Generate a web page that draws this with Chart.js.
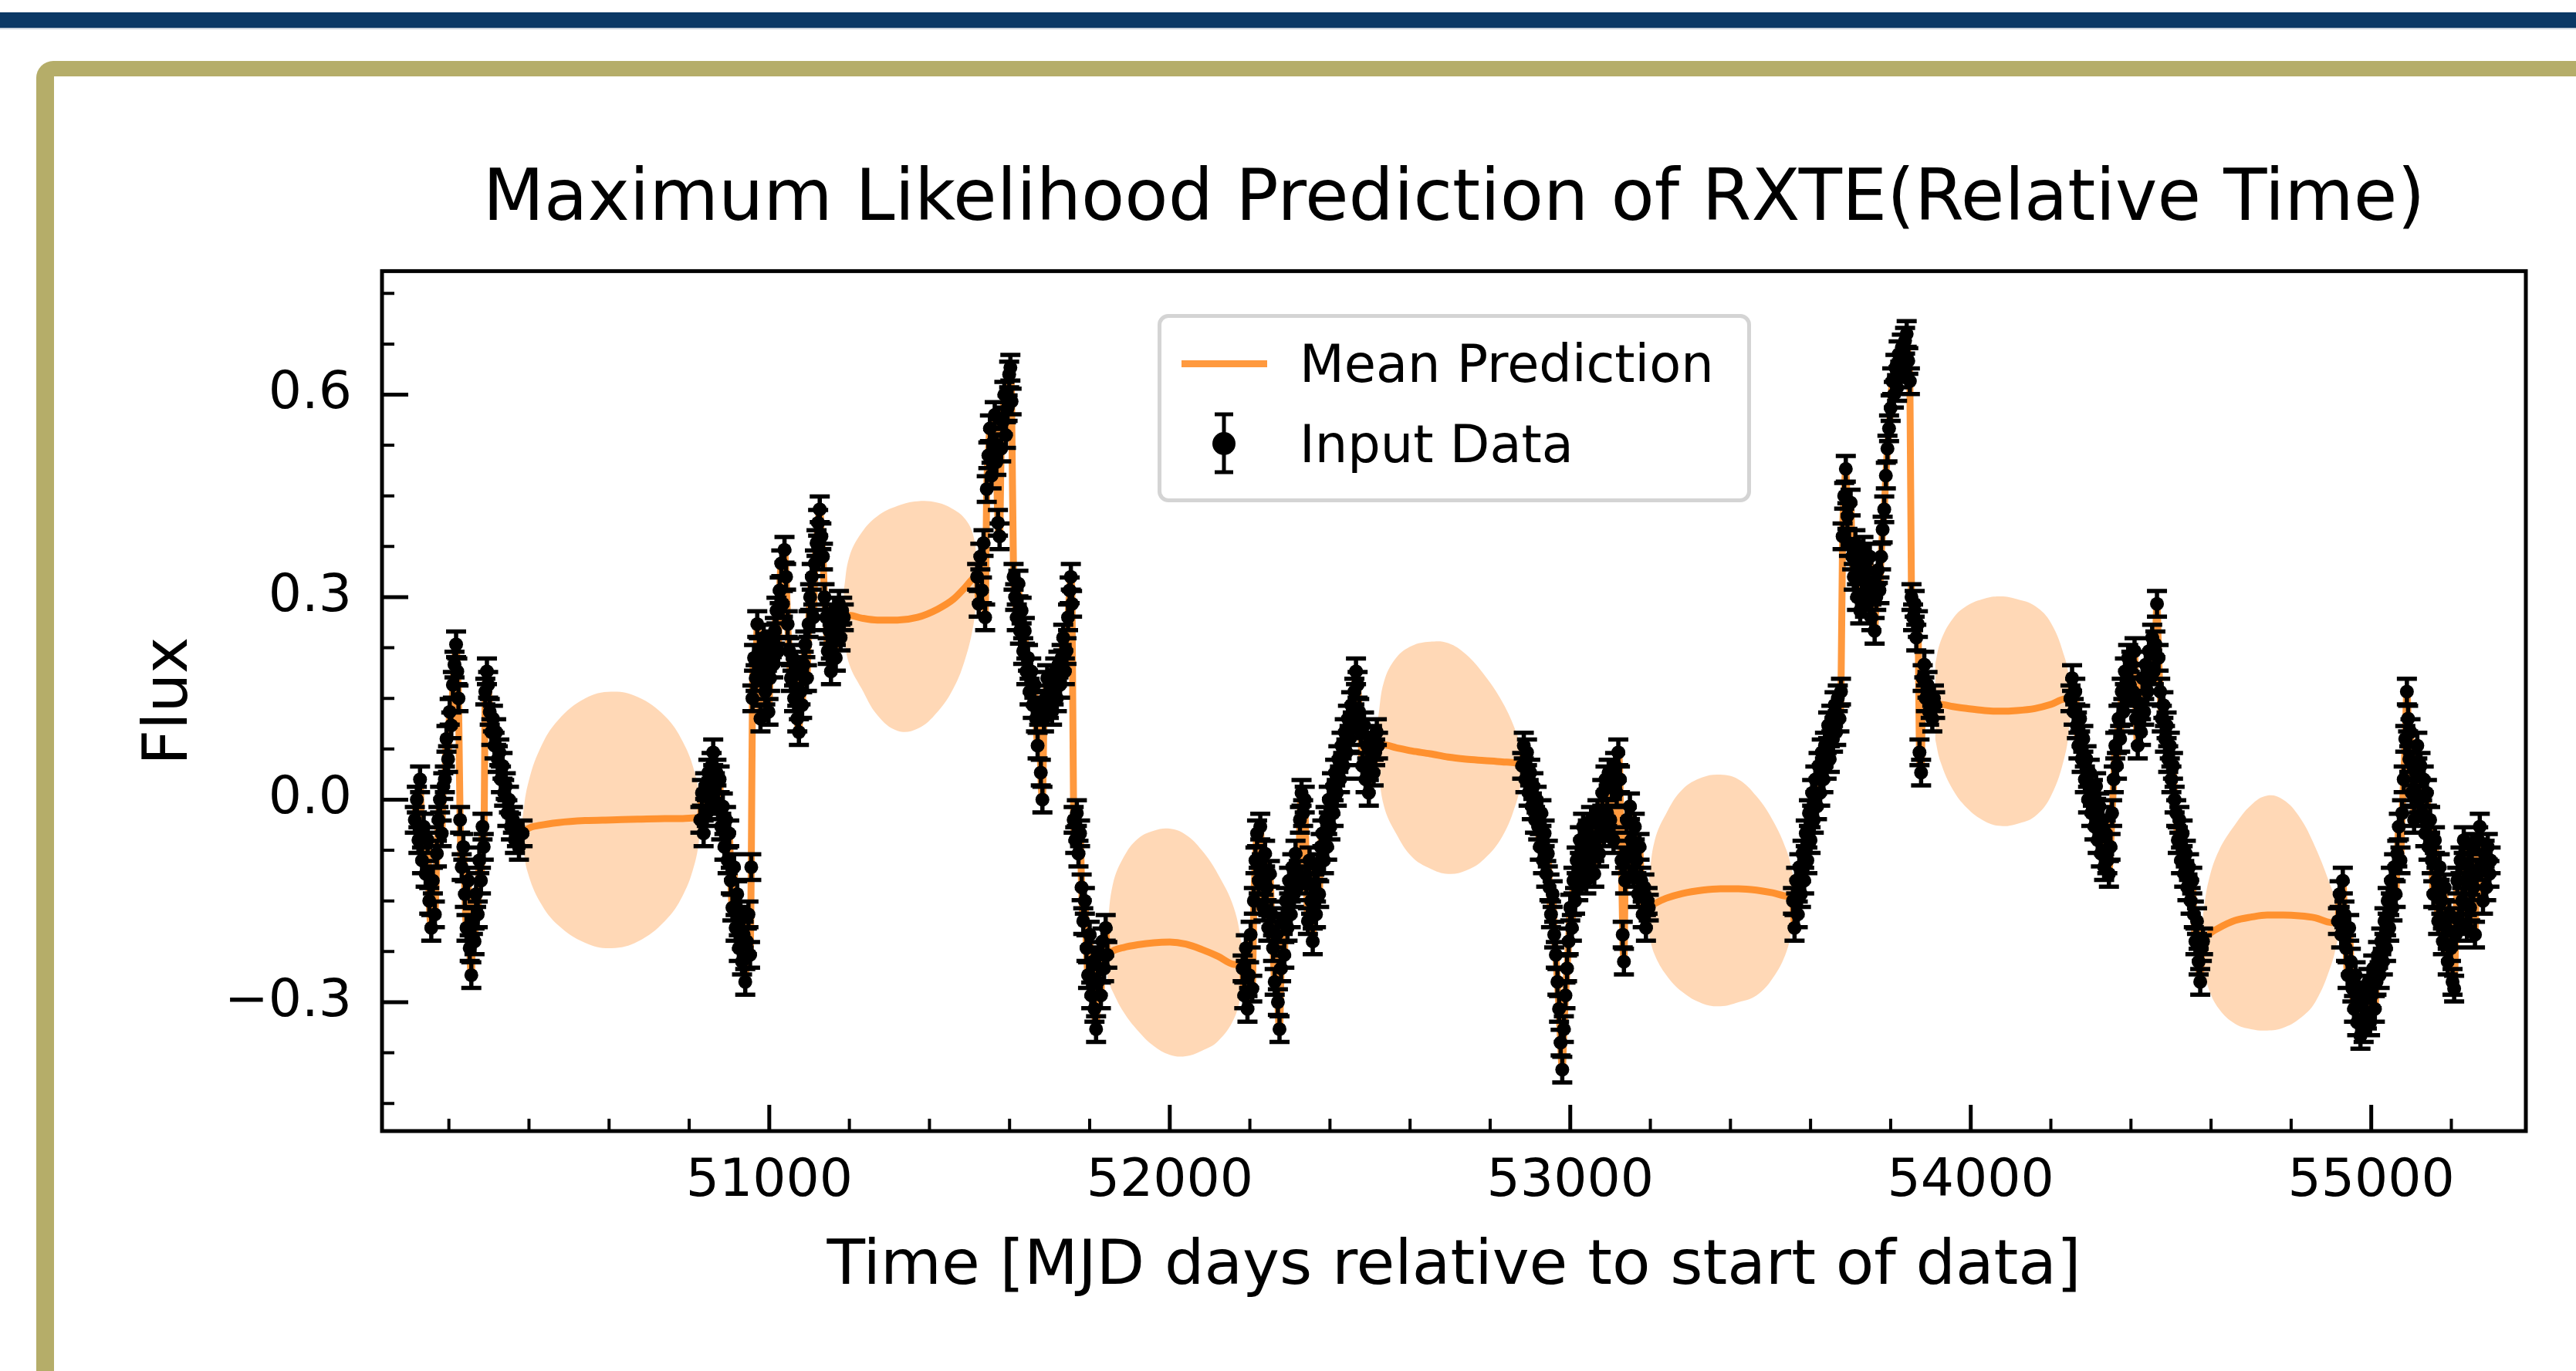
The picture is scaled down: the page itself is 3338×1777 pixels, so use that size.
<!DOCTYPE html>
<html lang="en">
<head>
  <meta charset="UTF-8" />
  <title>Maximum Likelihood Prediction of RXTE</title>
  <script src="https://cdn.jsdelivr.net/npm/chart.js"></script>
  <style>
    body {
      margin: 0;
      width: 3338px;
      height: 1777px;
      overflow: hidden;
      background: #ffffff;
      font-family: 'DejaVu Sans', sans-serif;
      position: relative;
    }
    .topbar {
      position: absolute;
      left: 0; top: 16px;
      width: 100%; height: 20px;
      background: #0b3865;
      border-bottom: 2px solid #c9d2dc;
    }
    .frame {
      position: absolute;
      left: 47px; top: 79px;
      width: 3400px; height: 1800px;
      box-sizing: border-box;
      border-left: 23px solid #b5ad69;
      border-top: 20px solid #b5ad69;
      border-top-left-radius: 22px;
    }
    canvas {
      position: absolute;
      left: 0; top: 0;
    }
    .legend-box {
      position: absolute;
      left: 1500px; top: 407px;
      width: 769px; height: 244px;
      box-sizing: border-box;
      border: 5px solid #d4d4d4;
      border-radius: 14px;
      background: rgba(255, 255, 255, 0.8);
    }
    .legend-text {
      position: absolute;
      left: 1684px;
      font-size: 67px;
      line-height: 1;
      color: #000;
      white-space: nowrap;
    }
    .legend-line {
      position: absolute;
      left: 1531px; top: 467px;
      width: 111px; height: 9px;
      background: rgba(255, 127, 14, 0.8);
    }
    .legend-err {
      position: absolute;
      left: 1556px; top: 530px;
    }
  </style>
</head>
<body>
  <div class="topbar"></div>
  <div class="frame"></div>
  <canvas id="rxte" width="3338" height="1777"></canvas>

  <div class="legend-box"></div>
  <div class="legend-line"></div>
  <div class="legend-text" style="top:439px">Mean Prediction</div>
  <svg class="legend-err" width="60" height="90">
    <line x1="30" y1="7" x2="30" y2="82" stroke="#000" stroke-width="5"/>
    <line x1="18" y1="7" x2="42" y2="7" stroke="#000" stroke-width="5"/>
    <line x1="18" y1="82" x2="42" y2="82" stroke="#000" stroke-width="5"/>
    <circle cx="30" cy="45" r="15" fill="#000"/>
  </svg>
  <div class="legend-text" style="top:543px">Input Data</div>

  <script>
    // axis ranges and tick labels
    const xRange = [50033, 55386];
    const yRange = [-0.491, 0.783];
    const xTicks = [51000, 52000, 53000, 54000, 55000];
    const yTicks = [-0.3, 0.0, 0.3, 0.6];
    const yMinorTicks = [-0.45, -0.375, -0.225, -0.15, -0.075, 0.075, 0.15, 0.225, 0.375, 0.45, 0.525, 0.675, 0.75];

    // observed light curve (MJD, flux); one error value for every point
    const FLUX_ERR = 0.019;
    const obsTime = [
      // first block
      50115, 50120, 50124, 50128, 50133, 50137, 50142, 50147, 50151, 50156,
      50160, 50165, 50170, 50174, 50178, 50182, 50186, 50190, 50194, 50198,
      50202, 50206, 50210, 50214, 50218, 50221, 50224, 50228, 50232, 50236,
      50240, 50244, 50248, 50252, 50256, 50260, 50264, 50268, 50272, 50276,
      50280, 50284, 50287, 50291, 50295, 50298, 50302, 50306, 50310, 50314,
      50318, 50322, 50326, 50330, 50334, 50338, 50342, 50346, 50350, 50355,
      50360, 50365, 50370, 50375, 50380, 50384,
      // second block
      50828, 50832, 50836, 50840, 50844, 50848, 50852, 50856, 50860, 50864,
      50868, 50872, 50876, 50880, 50884, 50888, 50892, 50896, 50900, 50904,
      50908, 50912, 50916, 50920, 50924, 50928, 50932, 50936, 50940, 50944,
      50948, 50952, 50955,
      50958, 50962, 50966, 50970, 50974, 50978, 50982, 50986, 50990, 50994,
      50998, 51002, 51006, 51010, 51014, 51018, 51022, 51026, 51030, 51034,
      51038, 51042, 51046, 51050, 51054, 51058, 51062, 51066, 51070, 51074,
      51078, 51082, 51086, 51090, 51094, 51098, 51102, 51106, 51110, 51114,
      51118, 51122, 51126, 51130, 51134, 51138, 51142, 51146, 51150, 51154,
      51158, 51162, 51166, 51170, 51174, 51178, 51182, 51186,
      // third block
      51519, 51523, 51527, 51531, 51535, 51539, 51543, 51547, 51551, 51555,
      51559, 51563, 51567, 51571, 51575, 51579, 51583, 51587, 51591, 51595,
      51599, 51602, 51605, 51610, 51614, 51618, 51622, 51626, 51630, 51634,
      51638, 51642, 51646, 51650, 51654, 51658, 51662, 51666, 51670, 51674,
      51678, 51682, 51686, 51690, 51694, 51698, 51702, 51706, 51710, 51714,
      51718, 51722, 51726, 51730, 51734, 51738, 51742, 51746, 51750, 51753,
      51756, 51760, 51764, 51768, 51772, 51776, 51780, 51784, 51788, 51792,
      51796, 51800, 51804, 51808, 51812, 51816, 51820, 51824, 51828, 51832,
      51836, 51840, 51844,
      // fourth block
      52182, 52186, 52190, 52194, 52198, 52202, 52206, 52210, 52214, 52218,
      52222, 52226, 52230, 52234, 52238, 52242, 52246, 52250, 52254, 52258,
      52262, 52266, 52270, 52274, 52278, 52282, 52286, 52290, 52294, 52298,
      52302, 52306, 52310, 52314, 52318, 52322, 52325, 52329, 52333, 52337,
      52341, 52345, 52349, 52353, 52357, 52361, 52365, 52369, 52373, 52377,
      52381, 52385, 52389, 52393, 52397, 52401, 52405, 52409, 52413, 52417,
      52421, 52425, 52429, 52433, 52437, 52441, 52445, 52449, 52453, 52457,
      52461, 52465, 52469, 52473, 52477, 52481, 52485, 52489, 52493, 52497,
      52501, 52505, 52509, 52513, 52517, 52520,
      // fifth block
      52880, 52884, 52888, 52892, 52896, 52900, 52904, 52908, 52912, 52916,
      52920, 52924, 52928, 52932, 52936, 52940, 52944, 52948, 52952, 52956,
      52960, 52964, 52968, 52972, 52976, 52980, 52984, 52988, 52992, 52996,
      53000, 53004, 53008, 53012, 53016, 53020, 53024, 53028, 53032, 53036,
      53040, 53044, 53048, 53052, 53056, 53060, 53064, 53068, 53072, 53076,
      53080, 53084, 53088, 53092, 53096, 53100, 53104, 53108, 53112, 53116,
      53120, 53124, 53128, 53131, 53134, 53137, 53141, 53145, 53149, 53153,
      53157, 53161, 53165, 53169, 53173, 53177, 53181, 53185, 53189, 53193,
      53196,
      // sixth block
      53556, 53560, 53564, 53568, 53572, 53576, 53580, 53584, 53588, 53592,
      53596, 53600, 53604, 53608, 53612, 53616, 53620, 53624, 53628, 53632,
      53636, 53640, 53644, 53648, 53652, 53656, 53660, 53664, 53668, 53672,
      53676, 53680, 53684, 53688, 53692, 53696, 53700, 53704, 53708, 53712,
      53716, 53720, 53724, 53728, 53732, 53736, 53740, 53744, 53748, 53752,
      53756, 53760, 53764, 53768, 53772, 53776, 53780, 53784, 53788, 53792,
      53796, 53800, 53804, 53808, 53812, 53816, 53820, 53824, 53828, 53832,
      53836, 53840, 53844, 53848, 53852, 53856, 53860, 53864, 53868, 53872,
      53876, 53880, 53884, 53888, 53892, 53896, 53900, 53904, 53908, 53911,
      // seventh block
      54249, 54253, 54257, 54261, 54265, 54269, 54273, 54277, 54281, 54285,
      54289, 54293, 54297, 54301, 54305, 54309, 54313, 54317, 54321, 54325,
      54329, 54333, 54337, 54341, 54345, 54349, 54353, 54357, 54361, 54365,
      54369, 54373, 54377, 54381, 54385, 54389, 54393, 54397, 54401, 54405,
      54409, 54413, 54417, 54421, 54425, 54429, 54433, 54437, 54441, 54445,
      54449, 54453, 54457, 54461, 54465, 54469, 54473, 54477, 54481, 54485,
      54489, 54493, 54497, 54501, 54505, 54509, 54513, 54517, 54521, 54525,
      54529, 54533, 54537, 54541, 54545, 54549, 54553, 54557, 54561, 54565,
      54569, 54573, 54577, 54580,
      // eighth block
      54917, 54921, 54925, 54929, 54933, 54937, 54941, 54945, 54949, 54953,
      54957, 54961, 54965, 54969, 54973, 54977, 54981, 54985, 54989, 54993,
      54997, 55001, 55005, 55009, 55013, 55017, 55021, 55025, 55029, 55033,
      55037, 55041, 55045, 55049, 55053, 55057, 55061, 55065, 55069, 55073,
      55077, 55081, 55085, 55089, 55092, 55095, 55098, 55101, 55104, 55107,
      55111, 55115, 55119, 55123, 55127, 55131, 55135, 55139, 55143, 55147,
      55151, 55155, 55159, 55163, 55167, 55171, 55175, 55179, 55183, 55187,
      55191, 55195, 55199, 55203, 55207, 55211, 55215, 55219, 55223, 55227,
      55231, 55235, 55239, 55243, 55247, 55251, 55255, 55259, 55263, 55267,
      55271, 55275, 55279, 55283, 55287, 55291, 55295, 55298
    ];
    const obsFlux = [
      // first block
      -0.03, 0.00, -0.06, 0.03, -0.09, -0.04, -0.11, -0.06, -0.15, -0.19,
      -0.12, -0.17, -0.08, -0.03, 0.00, -0.05, 0.02, 0.03, 0.09, 0.06,
      0.13, 0.11, 0.17, 0.20, 0.23, 0.19, 0.15, -0.03, -0.10, -0.07,
      -0.14, -0.19, -0.12, -0.22, -0.26, -0.18, -0.21, -0.14, -0.17, -0.09,
      -0.12, -0.04, -0.07, 0.16, 0.19, 0.17, 0.13, 0.10, 0.12, 0.08,
      0.10, 0.06, 0.07, 0.03, 0.05, 0.01, 0.02, -0.02, 0.00, -0.04,
      -0.03, -0.06, -0.05, -0.07, -0.05, -0.05,
      // second block
      -0.03, 0.01, -0.05, 0.02, -0.02, 0.04, 0.00, 0.05, 0.07, 0.02,
      0.04, -0.01, 0.03, -0.04, -0.01, -0.07, -0.03, -0.09, -0.05, -0.12,
      -0.16, -0.10, -0.19, -0.14, -0.22, -0.17, -0.24, -0.20, -0.27, -0.21,
      -0.17, -0.23, -0.10,
      0.15, 0.21, 0.18, 0.26, 0.22, 0.12, 0.19, 0.24, 0.16, 0.21,
      0.13, 0.18, 0.23, 0.20, 0.25, 0.28, 0.22, 0.31, 0.35, 0.29,
      0.37, 0.33, 0.26, 0.22, 0.18, 0.21, 0.15, 0.19, 0.12, 0.10,
      0.16, 0.14, 0.20, 0.23, 0.18, 0.26, 0.30, 0.33, 0.27, 0.35,
      0.38, 0.41, 0.43, 0.39, 0.36, 0.30, 0.27, 0.22, 0.25, 0.19,
      0.24, 0.28, 0.21, 0.26, 0.29, 0.24, 0.28, 0.27,
      // third block
      0.33, 0.29, 0.36, 0.31, 0.38, 0.27, 0.46, 0.51, 0.55, 0.48,
      0.53, 0.57, 0.50, 0.41, 0.39, 0.52, 0.56, 0.60, 0.54, 0.58,
      0.63, 0.64, 0.59, 0.33, 0.30, 0.27, 0.32, 0.25, 0.28, 0.22,
      0.25, 0.19, 0.21, 0.16, 0.19, 0.14, 0.17, 0.12, 0.08, 0.13,
      0.04, 0.00, 0.12, 0.15, 0.18, 0.14, 0.17, 0.13, 0.16, 0.19,
      0.15, 0.20, 0.17, 0.21, 0.24, 0.19, 0.22, 0.27, 0.31, 0.33,
      0.29, -0.03, -0.06, -0.02, -0.08, -0.05, -0.13, -0.18, -0.15, -0.22,
      -0.26, -0.20, -0.29, -0.24, -0.31, -0.34, -0.27, -0.23, -0.29, -0.21,
      -0.25, -0.19, -0.23,
      // fourth block
      -0.25, -0.29, -0.22, -0.31, -0.26, -0.20, -0.28, -0.15, -0.09, -0.05,
      -0.12, -0.04, -0.10, -0.16, -0.08, -0.13, -0.19, -0.11, -0.17, -0.22,
      -0.27, -0.20, -0.30, -0.34, -0.25, -0.18, -0.23, -0.15, -0.19, -0.12,
      -0.17, -0.10, -0.14, -0.08, -0.13, -0.11, -0.03, 0.01, -0.02, 0.00,
      -0.12, -0.18, -0.09, -0.15, -0.21, -0.13, -0.17, -0.10, -0.14, -0.07,
      -0.05, -0.09, -0.03, -0.07, 0.00, -0.04, 0.02, -0.02, 0.04, 0.01,
      0.06, 0.03, 0.08, 0.05, 0.10, 0.07, 0.12, 0.09, 0.14, 0.11,
      0.16, 0.19, 0.17, 0.13, 0.10, 0.05, 0.11, 0.03, 0.08, 0.01,
      0.06, 0.09, 0.04, 0.07, 0.10, 0.08,
      // fifth block
      0.05, 0.08, 0.03, 0.07, 0.01, 0.04, -0.01, 0.02, -0.03, 0.00,
      -0.04, -0.07, -0.02, -0.09, -0.05, -0.11, -0.08, -0.13, -0.17, -0.14,
      -0.20, -0.23, -0.27, -0.31, -0.36, -0.40, -0.34, -0.29, -0.25, -0.21,
      -0.16, -0.19, -0.12, -0.15, -0.09, -0.13, -0.06, -0.10, -0.04, -0.08,
      -0.12, -0.05, -0.09, -0.03, -0.07, -0.11, -0.06, -0.02, -0.08, -0.04,
      0.01, -0.05, 0.03, -0.02, 0.04, -0.03, 0.02, -0.06, 0.05, 0.01,
      0.07, 0.03, -0.09, -0.20, -0.24, -0.12, -0.03, -0.08, -0.01, -0.06,
      -0.11, -0.04, -0.09, -0.14, -0.07, -0.12, -0.17, -0.13, -0.19, -0.15,
      -0.16,
      // sixth block
      -0.15, -0.19, -0.12, -0.17, -0.10, -0.14, -0.08, -0.12, -0.05, -0.09,
      -0.02, -0.06, 0.01, -0.03, 0.03, -0.01, 0.05, 0.01, 0.07, 0.03,
      0.08, 0.05, 0.11, 0.06, 0.12, 0.09, 0.14, 0.10, 0.15, 0.12,
      0.16, 0.39, 0.45, 0.49, 0.42, 0.38, 0.44, 0.36, 0.33, 0.38,
      0.30, 0.35, 0.28, 0.33, 0.37, 0.29, 0.34, 0.31, 0.36, 0.27,
      0.32, 0.25, 0.30, 0.34, 0.31, 0.36, 0.40, 0.43, 0.48, 0.52,
      0.55, 0.58, 0.62, 0.60, 0.64, 0.61, 0.66, 0.63, 0.67, 0.64,
      0.68, 0.69, 0.65, 0.62, 0.30, 0.27, 0.29, 0.24, 0.26, 0.07,
      0.04, 0.18, 0.20, 0.15, 0.17, 0.13, 0.14, 0.12, 0.15, 0.14,
      // seventh block
      0.15, 0.18, 0.13, 0.16, 0.11, 0.08, 0.12, 0.06, 0.09, 0.03,
      0.06, 0.00, 0.04, -0.02, 0.01, -0.04, 0.02, -0.06, -0.01, -0.08,
      -0.03, -0.10, -0.05, -0.09, -0.11, -0.07, -0.02, 0.03, 0.08, 0.05,
      0.12, 0.09, 0.16, 0.13, 0.19, 0.15, 0.21, 0.17, 0.20, 0.16,
      0.22, 0.12, 0.08, 0.14, 0.10, 0.18, 0.13, 0.20, 0.16, 0.22,
      0.18, 0.24, 0.19, 0.23, 0.29, 0.21, 0.16, 0.12, 0.14, 0.09,
      0.11, 0.06, 0.08, 0.03, 0.05, 0.00, -0.02, -0.06, -0.03, -0.09,
      -0.05, -0.11, -0.08, -0.13, -0.10, -0.15, -0.12, -0.17, -0.21, -0.18,
      -0.24, -0.27, -0.22, -0.21,
      // eighth block
      -0.18, -0.14, -0.20, -0.12, -0.17, -0.22, -0.26, -0.19, -0.24, -0.28,
      -0.31, -0.26, -0.33, -0.29, -0.35, -0.30, -0.34, -0.28, -0.32, -0.27,
      -0.33, -0.29, -0.25, -0.31, -0.27, -0.23, -0.26, -0.21, -0.24, -0.18,
      -0.22, -0.15, -0.19, -0.12, -0.16, -0.10, -0.14, -0.08, -0.04, -0.09,
      -0.02, 0.03, 0.09, 0.16, 0.12, 0.06, 0.10, 0.01, 0.05, -0.03,
      0.04, 0.08, 0.00, 0.05, -0.02, 0.03, -0.05, 0.01, -0.07, -0.03,
      -0.09, -0.14, -0.06, -0.12, -0.18, -0.10, -0.15, -0.21, -0.13, -0.19,
      -0.24, -0.17, -0.22, -0.27, -0.28, -0.20, -0.12, -0.18, -0.09, -0.15,
      -0.06, -0.12, -0.19, -0.10, -0.16, -0.07, -0.13, -0.20, -0.11, -0.06,
      -0.04, -0.10, -0.15, -0.08, -0.13, -0.07, -0.11, -0.09
    ];

    // prediction inside the gaps between observing blocks: mean and band edges
    const gapTime = [
      [50384, 50397, 50428, 50473, 50540, 50606, 50672, 50739, 50784, 50815, 50828],
      [51186, 51200, 51230, 51270, 51320, 51370, 51420, 51460, 51490, 51510, 51519],
      [51844, 51858, 51885, 51920, 51960, 52000, 52040, 52080, 52120, 52160, 52182],
      [52520, 52535, 52565, 52605, 52650, 52695, 52740, 52785, 52830, 52865, 52880],
      [53196, 53211, 53240, 53280, 53330, 53375, 53420, 53465, 53505, 53540, 53556],
      [53911, 53925, 53955, 53990, 54035, 54075, 54115, 54160, 54200, 54235, 54249],
      [54580, 54594, 54620, 54660, 54700, 54740, 54780, 54820, 54860, 54900, 54917]
    ];
    const gapMean = [
      [-0.046, -0.043, -0.038, -0.034, -0.031, -0.030, -0.029, -0.028, -0.028, -0.027, -0.027],
      [0.276, 0.273, 0.269, 0.266, 0.266, 0.270, 0.282, 0.297, 0.315, 0.328, 0.333],
      [-0.228, -0.224, -0.219, -0.215, -0.212, -0.211, -0.214, -0.222, -0.232, -0.244, -0.251],
      [0.083, 0.081, 0.077, 0.072, 0.068, 0.063, 0.060, 0.058, 0.056, 0.054, 0.054],
      [-0.160, -0.154, -0.146, -0.139, -0.134, -0.132, -0.132, -0.134, -0.138, -0.143, -0.145],
      [0.143, 0.141, 0.138, 0.135, 0.132, 0.131, 0.132, 0.135, 0.141, 0.149, 0.151],
      [-0.206, -0.200, -0.190, -0.179, -0.174, -0.171, -0.171, -0.172, -0.175, -0.182, -0.184]
    ];
    const gapUpper = [
      [-0.026, 0.022, 0.076, 0.118, 0.150, 0.160, 0.152, 0.124, 0.086, 0.038, -0.007],
      [0.31, 0.36, 0.395, 0.42, 0.435, 0.442, 0.44, 0.43, 0.415, 0.39, 0.35],
      [-0.19, -0.125, -0.085, -0.058, -0.046, -0.043, -0.052, -0.075, -0.11, -0.16, -0.22],
      [0.12, 0.175, 0.21, 0.228, 0.234, 0.232, 0.215, 0.185, 0.145, 0.10, 0.07],
      [-0.12, -0.06, -0.02, 0.015, 0.033, 0.037, 0.03, 0.005, -0.03, -0.075, -0.11],
      [0.20, 0.235, 0.268, 0.287, 0.298, 0.301, 0.297, 0.287, 0.262, 0.21, 0.17],
      [-0.17, -0.12, -0.075, -0.037, -0.008, 0.006, 0.0, -0.025, -0.07, -0.13, -0.16]
    ];
    const gapLower = [
      [-0.066, -0.108, -0.152, -0.186, -0.212, -0.220, -0.210, -0.180, -0.142, -0.092, -0.047],
      [0.24, 0.20, 0.165, 0.125, 0.102, 0.105, 0.13, 0.165, 0.21, 0.26, 0.31],
      [-0.265, -0.285, -0.315, -0.342, -0.365, -0.378, -0.380, -0.372, -0.358, -0.325, -0.28],
      [0.05, -0.01, -0.05, -0.085, -0.102, -0.11, -0.105, -0.088, -0.055, -0.005, 0.035],
      [-0.20, -0.23, -0.26, -0.285, -0.302, -0.306, -0.30, -0.29, -0.265, -0.225, -0.18],
      [0.09, 0.055, 0.015, -0.012, -0.032, -0.039, -0.036, -0.025, 0.005, 0.065, 0.12],
      [-0.245, -0.28, -0.31, -0.332, -0.34, -0.342, -0.338, -0.325, -0.30, -0.245, -0.205]
    ];

    const ORANGE = 'rgba(255, 127, 14, 0.8)';
    const BAND = 'rgba(255, 127, 14, 0.3)';
    const CAP = 13;

    if (obsTime.length !== obsFlux.length) console.warn('length mismatch', obsTime.length, obsFlux.length);

    const points = obsTime.map((t, i) => ({ x: t, y: obsFlux[i] }));

    // mean line: through the data, and along the predicted curve in the gaps
    const meanPts = points.slice();
    gapTime.forEach((ts, g) => ts.forEach((t, k) => {
      if (k > 0 && k < ts.length - 1) meanPts.push({ x: t, y: gapMean[g][k] });
    }));
    meanPts.sort((a, b) => a.x - b.x);

    const bandSets = [];
    gapTime.forEach((ts, g) => {
      bandSets.push({
        data: ts.map((t, k) => ({ x: t, y: gapUpper[g][k] })),
        borderWidth: 0, pointRadius: 0, fill: false, tension: 0.4
      });
      bandSets.push({
        data: ts.map((t, k) => ({ x: t, y: gapLower[g][k] })),
        borderWidth: 0, pointRadius: 0, fill: '-1', backgroundColor: BAND, tension: 0.4
      });
    });

    // error bars under the markers
    const errorBars = {
      id: 'errorBars',
      beforeDatasetDraw(chart, args) {
        if (args.index !== 0) return;
        const { ctx, chartArea: a, scales: { x, y } } = chart;
        ctx.save();
        ctx.beginPath();
        ctx.rect(a.left, a.top, a.right - a.left, a.bottom - a.top);
        ctx.clip();
        ctx.strokeStyle = '#000';
        ctx.lineWidth = 5.5;
        ctx.beginPath();
        obsTime.forEach((t, i) => {
          const px = x.getPixelForValue(t);
          const top = y.getPixelForValue(obsFlux[i] + FLUX_ERR);
          const bot = y.getPixelForValue(obsFlux[i] - FLUX_ERR);
          ctx.moveTo(px, top); ctx.lineTo(px, bot);
          ctx.moveTo(px - CAP, top); ctx.lineTo(px + CAP, top);
          ctx.moveTo(px - CAP, bot); ctx.lineTo(px + CAP, bot);
        });
        ctx.stroke();
        ctx.restore();
      }
    };

    // matplotlib style frame with inward ticks
    const frameTicks = {
      id: 'frameTicks',
      afterDatasetsDraw(chart) {
        const { ctx, chartArea: a, scales: { x, y } } = chart;
        ctx.save();
        ctx.strokeStyle = '#000';
        ctx.lineCap = 'butt';

        ctx.lineWidth = 4;
        ctx.beginPath();
        for (let v = 50200; v <= 55200; v += 200) {
          if (v % 1000 === 0) continue;
          const px = x.getPixelForValue(v);
          ctx.moveTo(px, a.bottom); ctx.lineTo(px, a.bottom - 16);
        }
        yMinorTicks.forEach(v => {
          const py = y.getPixelForValue(v);
          ctx.moveTo(a.left, py); ctx.lineTo(a.left + 16, py);
        });
        ctx.stroke();

        ctx.lineWidth = 5;
        ctx.beginPath();
        xTicks.forEach(v => {
          const px = x.getPixelForValue(v);
          ctx.moveTo(px, a.bottom); ctx.lineTo(px, a.bottom - 34);
        });
        yTicks.forEach(v => {
          const py = y.getPixelForValue(v);
          ctx.moveTo(a.left, py); ctx.lineTo(a.left + 34, py);
        });
        ctx.stroke();

        ctx.lineWidth = 5;
        ctx.strokeRect(a.left, a.top, a.right - a.left, a.bottom - a.top);
        ctx.restore();
      }
    };

    Chart.defaults.font.family = "'DejaVu Sans', sans-serif";
    Chart.defaults.color = '#000';

    new Chart(document.getElementById('rxte').getContext('2d'), {
      type: 'line',
      data: {
        datasets: [
          {
            label: 'Input Data',
            data: points,
            showLine: false,
            pointRadius: 9,
            pointBackgroundColor: '#000',
            pointBorderWidth: 0
          },
          {
            label: 'Mean Prediction',
            data: meanPts,
            borderColor: ORANGE,
            borderWidth: 9,
            pointRadius: 0,
            fill: false,
            cubicInterpolationMode: 'monotone'
          },
          ...bandSets
        ]
      },
      options: {
        responsive: false,
        animation: false,
        devicePixelRatio: 1,
        layout: { padding: { left: 173, right: 65, top: 0, bottom: 85 } },
        plugins: {
          legend: { display: false },
          tooltip: { enabled: false },
          title: {
            display: true,
            fullSize: false,
            text: 'Maximum Likelihood Prediction of RXTE(Relative Time)',
            font: { size: 92, weight: 'normal' },
            color: '#000',
            padding: { top: 206, bottom: 35 }
          }
        },
        scales: {
          x: {
            type: 'linear',
            min: xRange[0],
            max: xRange[1],
            afterFit: s => { s.height = 226; },
            afterBuildTicks: s => { s.ticks = xTicks.map(v => ({ value: v })); },
            grid: { display: false, drawTicks: false },
            border: { display: false },
            ticks: {
              autoSkip: false, maxRotation: 0, padding: 26,
              font: { size: 68 }, color: '#000',
              callback: v => String(v)
            },
            title: {
              display: true,
              text: 'Time [MJD days relative to start of data]',
              font: { size: 81 }, color: '#000',
              padding: { top: 0, bottom: 0 }
            }
          },
          y: {
            type: 'linear',
            min: yRange[0],
            max: yRange[1],
            afterFit: s => { s.width = 322; },
            afterBuildTicks: s => { s.ticks = yTicks.map(v => ({ value: v })); },
            grid: { display: false, drawTicks: false },
            border: { display: false },
            ticks: {
              autoSkip: false, padding: 39,
              font: { size: 68 }, color: '#000',
              callback: v => (v < 0 ? '\u2212' + Math.abs(v).toFixed(1) : v.toFixed(1))
            },
            title: {
              display: true,
              text: 'Flux',
              font: { size: 80 }, color: '#000',
              padding: { top: 0, bottom: 0 }
            }
          }
        }
      },
      plugins: [errorBars, frameTicks]
    });
  </script>
</body>
</html>
